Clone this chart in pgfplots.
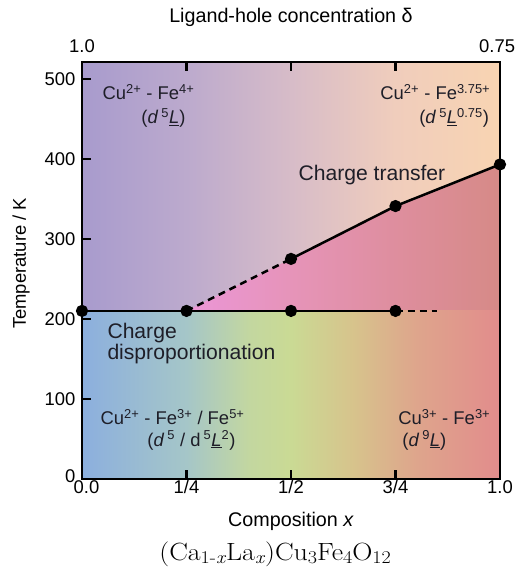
\documentclass[border=0pt]{standalone}
\usepackage{pgfplots}
\pgfplotsset{compat=1.18}
\usepackage{fontspec}
\setsansfont{Liberation Sans}
\newfontfamily\formfont[FakeStretch=1.12]{Latin Modern Roman}

\definecolor{up0}{RGB}{168,155,205}
\definecolor{up1}{RGB}{188,170,205}
\definecolor{up2}{RGB}{215,188,200}
\definecolor{up3}{RGB}{240,205,188}
\definecolor{up4}{RGB}{248,212,178}
\definecolor{lo0}{RGB}{140,175,222}
\definecolor{lo1}{RGB}{165,198,200}
\definecolor{lo2}{RGB}{195,215,160}
\definecolor{lo3}{RGB}{202,218,148}
\definecolor{lo4}{RGB}{215,195,140}
\definecolor{lo5}{RGB}{222,165,140}
\definecolor{lo6}{RGB}{226,140,140}
\definecolor{pk0}{RGB}{235,150,215}
\definecolor{pk1}{RGB}{230,148,185}
\definecolor{pk2}{RGB}{222,142,158}
\definecolor{pk3}{RGB}{214,138,135}
\definecolor{txt}{RGB}{30,30,40}

\pgfdeclarehorizontalshading{uppershade}{100bp}{color(0bp)=(up0); color(25bp)=(up0); color(37.5bp)=(up1); color(50bp)=(up2); color(62.5bp)=(up3); color(75bp)=(up4); color(100bp)=(up4)}
\pgfdeclarehorizontalshading{lowershade}{100bp}{color(0bp)=(lo0); color(25bp)=(lo0); color(37.5bp)=(lo1); color(45bp)=(lo2); color(50bp)=(lo3); color(57.5bp)=(lo4); color(65bp)=(lo5); color(75bp)=(lo6); color(100bp)=(lo6)}
\pgfdeclarehorizontalshading{pinkshade}{100bp}{color(0bp)=(pk0); color(25bp)=(pk0); color(41.67bp)=(pk1); color(58.33bp)=(pk2); color(75bp)=(pk3); color(100bp)=(pk3)}

\newcommand\ff{\fontsize{18.5}{22}\selectfont\sffamily}
\newcommand\fl{\fontsize{19.8}{23}\selectfont\sffamily}
\newcommand\fb{\fontsize{21.2}{25}\selectfont\sffamily}
\newcommand\uL{\underline{\textit{L}}}
\newcommand\sub[1]{\raisebox{-0.28ex}{\fontsize{18}{20}\selectfont #1}}

\pgfplotstableread{
x T
0 210
0.25 210
0.5 210
0.75 210
}\cdline
\pgfplotstableread{
x T
0.5 275
0.75 341
1 393
}\ctline

\begin{document}
\begin{tikzpicture}[font=\ff]
\useasboundingbox (-82bp,-88bp) rectangle (438bp,479bp);
\begin{axis}[
  at={(0,0)}, anchor=south west,
  scale only axis, width=418bp, height=417bp,
  xmin=0, xmax=1, ymin=0, ymax=521,
  clip=false, axis on top,
  axis line style={line width=2bp, black},
  tick align=inside, major tick length=9bp,
  every tick/.style={black, line width=2.5bp},
  xtick={0,0.25,0.5,0.75,1},
  xticklabels={\hspace{9bp}0.0,1/4,1/2,3/4,1.0\hspace{8bp}},
  xtick pos=both, ytick pos=left,
  ytick={100,200,300,400,500},
  extra y ticks={0},
  extra y tick style={yticklabel style={yshift=3bp}},
  /pgf/number format/assume math mode=true,
  tick label style={font=\ff},
  yticklabel style={xshift=-3bp},
  xticklabel style={yshift=2bp},
  label style={font=\ff},
  xlabel={Composition \textit{x}},
  xlabel style={font=\fl, at={(axis description cs:0.5,-0.1139)}, anchor=base},
  ylabel={Temperature / K},
  ylabel style={at={(axis description cs:-0.134,0.517)}, anchor=base},
  title={Ligand-hole concentration δ},
  title style={font=\fl, at={(axis description cs:0.5,1.0815)}, anchor=base},
]
% background regions
\addplot[draw=none, shade, shading=uppershade] coordinates {(0,521) (1,521)} \closedcycle;
\addplot[draw=none, shade, shading=pinkshade] coordinates {(0.25,210) (0.5,275) (0.75,341) (1,393) (1,210)} \closedcycle;
\addplot[draw=none, shade, shading=lowershade] coordinates {(0,210) (1,210)} \closedcycle;

% phase boundaries
\addplot[black, line width=2.5bp, dash pattern=on 7bp off 5bp] coordinates {(0.25,210) (0.5,275)};
\addplot[black, line width=2.5bp, dash pattern=on 7bp off 5bp] coordinates {(0.75,210) (0.85,210)};
\addplot[black, line width=2.5bp, mark=*, mark size=4.8bp, mark options={solid}] table[x=x,y=T] {\cdline};
\addplot[black, line width=2.5bp, mark=*, mark size=4.8bp, mark options={solid}] table[x=x,y=T] {\ctline};

% top tick labels
\node[anchor=base] at (axis description cs:0,1.0216) {1.0};
\node[anchor=base] at (axis description cs:0.993,1.0216) {0.75};

% annotations
\begin{scope}[every node/.style={text=txt, font=\ff}]
\node[anchor=base west] at (axis cs:0.0407,473.75) {Cu\textsuperscript{2+} - Fe\textsuperscript{4+}};
\node[anchor=base east] at (axis cs:0.256,444) {(\textit{d}\,\textsuperscript{5}\uL)};
\node[anchor=base east] at (axis cs:0.985,473.75) {Cu\textsuperscript{2+} - Fe\textsuperscript{3.75+}};
\node[anchor=base east] at (axis cs:0.982,444) {(\textit{d}\,\textsuperscript{5}\uL\textsuperscript{0.75})};
\node[anchor=base west, font=\fb] at (axis cs:0.5096,372.5) {Charge transfer};
\node[anchor=base west, font=\fb] at (axis cs:0.0526,176) {Charge};
\node[anchor=base west, font=\fb] at (axis cs:0.0526,148.75) {disproportionation};
\node[anchor=base west] at (axis cs:0.0359,67.5) {Cu\textsuperscript{2+} - Fe\textsuperscript{3+} / Fe\textsuperscript{5+}};
\node[anchor=base east] at (axis cs:0.3756,41) {(\textit{d}\,\textsuperscript{5} / d\,\textsuperscript{5}\uL\textsuperscript{2})};
\node[anchor=base east] at (axis cs:0.985,67.5) {Cu\textsuperscript{3+} - Fe\textsuperscript{3+}};
\node[anchor=base west] at (axis cs:0.758,41) {(\textit{d}\,\textsuperscript{9}\uL)};
\end{scope}

% formula
\node[anchor=base, font=\formfont\fontsize{25}{28}\selectfont] at (axis description cs:0.462,-0.195)
  {(Ca\sub{1-\textit{x}}La\sub{\textit{x}})Cu\sub{3}Fe\sub{4}O\sub{12}};
\end{axis}
\end{tikzpicture}
\end{document}
